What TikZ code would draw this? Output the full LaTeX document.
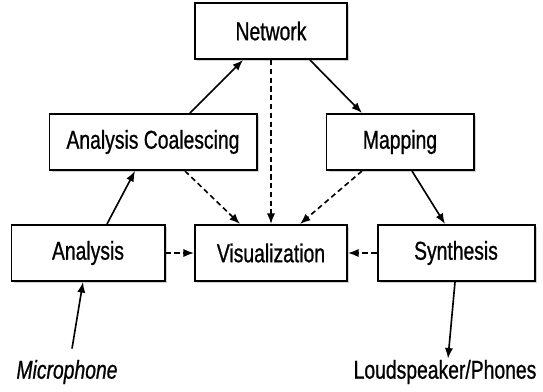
\documentclass[tikz,border=0pt]{standalone}
\usepackage{fontspec}
\setmainfont[FakeStretch=0.75,FakeBold=0.8]{Liberation Sans}
\usepackage{tikz}
\usetikzlibrary{arrows.meta,shadows}

\tikzset{
	box/.style={draw, line width=1.7pt, fill=white, minimum height=1.68cm, inner sep=2pt,
		font=\fontsize{22}{24}\selectfont,
		drop shadow={shadow xshift=1.8pt, shadow yshift=-1.8pt, fill=gray!45, opacity=0.8}},
	flow/.style={-{Latex[length=9pt,width=7pt]}, line width=1.4pt},
	hint/.style={flow, dash pattern=on 4.5pt off 3pt},
	ends/.style={font=\fontsize{22}{24}\selectfont, inner sep=1pt}
}

\begin{document}
\begin{tikzpicture}[x=0.03cm, y=-0.03cm]
	\useasboundingbox (0,0) rectangle (543,391);
	
	\node[box, minimum width=4.56cm] (net) at (271,31) {Network};
	\node[box, minimum width=6.21cm] (coal) at (153,142) {Analysis Coalescing};
	\node[box, minimum width=4.41cm] (map) at (400,142) {Mapping};
	\node[box, minimum width=4.59cm] (ana) at (88,253) {Analysis};
	\node[box, minimum width=4.56cm] (vis) at (271,253) {Visualization};
	\node[box, minimum width=4.71cm] (syn) at (456,253) {Synthesis};
	
	\node[ends] (mic) at (67,372) {\itshape Microphone};
	\node[ends] (spk) at (445,372) {Loudspeaker/Phones};
	
	% signal path
	\draw[flow] (mic.north) ++(5,-10) coordinate (m) -- (ana.south -| 83,0);
	\draw[flow] (ana.north -| 107,0) -- (coal.south -| 135,0);
	\draw[flow] (coal.north -| 190,0) -- (net.south -| 243,0);
	\draw[flow] (net.south -| 310,0) -- (map.north -| 362,0);
	\draw[flow] (map.south -| 412,0) -- (syn.north -| 445,0);
	\draw[flow] (syn.south -| 455,0) -- (spk.north -| 448,0);
	
	% to the display
	\draw[hint] (net) -- (vis);
	\draw[hint] (coal.south -| 185,0) -- (vis.north -| 240,0);
	\draw[hint] (map.south -| 362,0) -- (vis.north -| 300,0);
	\draw[hint] (ana) -- (vis);
	\draw[hint] (syn) -- (vis);
\end{tikzpicture}
\end{document}
